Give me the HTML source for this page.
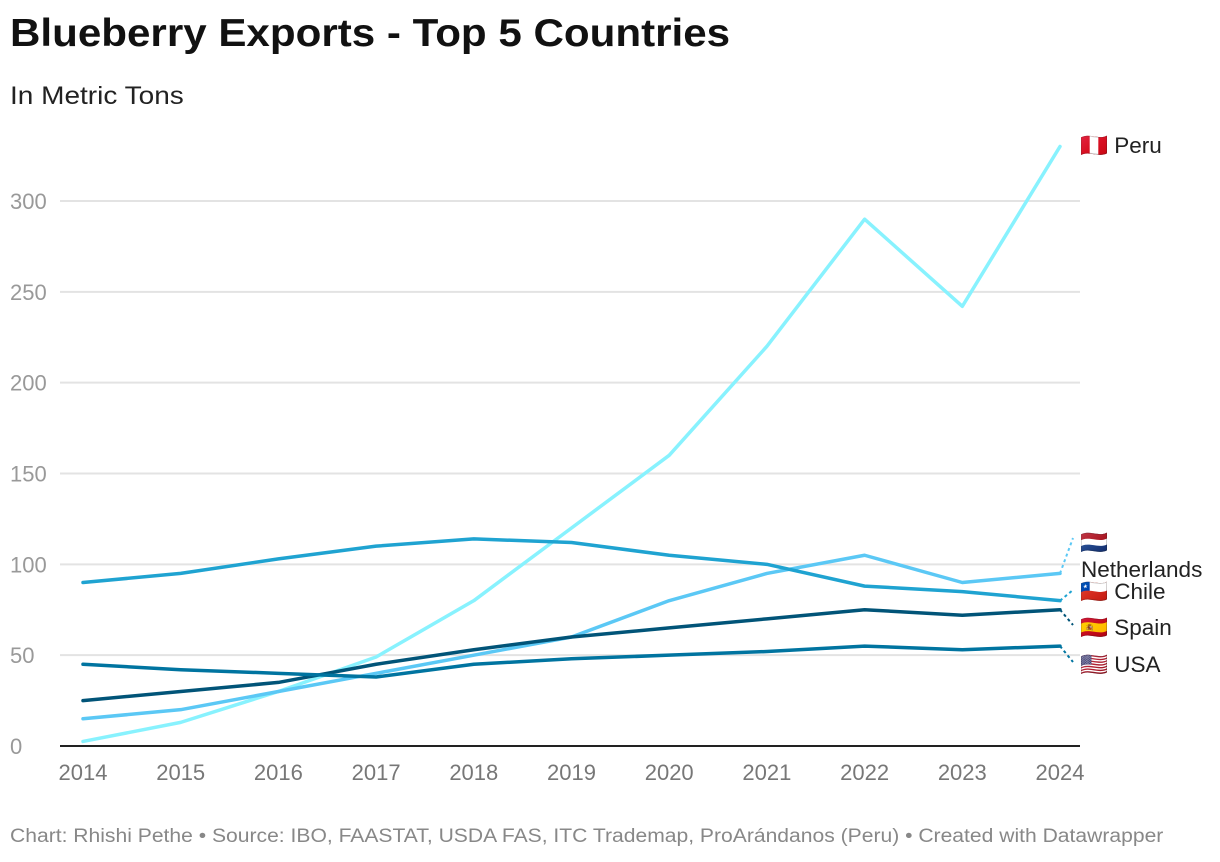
<!DOCTYPE html>
<html><head><meta charset="utf-8"><style>
body{margin:0;background:#fff;width:1220px;height:862px;overflow:hidden;font-family:"Liberation Sans",sans-serif}
#title{position:absolute;left:10px;top:12px;font-size:39px;font-weight:bold;color:#111;transform:scaleX(1.08);transform-origin:left;white-space:nowrap}
#sub{position:absolute;left:10px;top:82px;font-size:25px;color:#222;transform:scaleX(1.12);transform-origin:left;white-space:nowrap}
#foot{position:absolute;left:10px;top:826px;font-size:19px;color:#888;transform:scaleX(1.11);transform-origin:left;white-space:nowrap}
svg{position:absolute;left:0;top:0}
</style></head><body>
<div id="title">Blueberry Exports - Top 5 Countries</div>
<div id="sub">In Metric Tons</div>
<svg id="chart" width="1220" height="862"></svg>
<div id="foot">Chart: Rhishi Pethe • Source: IBO, FAASTAT, USDA FAS, ITC Trademap, ProArándanos (Peru) • Created with Datawrapper</div>
<script>
const years=[2014,2015,2016,2017,2018,2019,2020,2021,2022,2023,2024];
const yTicks=[0,50,100,150,200,250,300];
const peru=[2.5,13,30,49,80,120,160,220,290,242,330];
const netherlands=[15,20,30,40,50,60,80,95,105,90,95];
const chile=[90,95,103,110,114,112,105,100,88,85,80];
const spain=[25,30,35,45,53,60,65,70,75,72,75];
const usa=[45,42,40,38,45,48,50,52,55,53,55];
const NS='http://www.w3.org/2000/svg';
const svg=document.getElementById('chart');
const x=yr=>83+(yr-2014)*97.7;
const y=v=>746-v*545/300;
function mk(t,a,p){const e=document.createElementNS(NS,t);for(const k in a)e.setAttribute(k,a[k]);(p||svg).appendChild(e);return e;}
yTicks.forEach(t=>{
 if(t>0){const g=mk('line',{x1:60,x2:1080,y1:y(t),y2:y(t),stroke:'#e3e3e3','stroke-width':2});
 
 }
 const l=mk('text',{x:10,y:y(t)+8,'font-size':22,fill:'#999','font-family':'Liberation Sans'});l.textContent=t;
 
 
});
years.forEach(yr=>{const l=mk('text',{x:x(yr),y:780,'font-size':22,fill:'#777','text-anchor':'middle','font-family':'Liberation Sans'});l.textContent=yr;
 
 });
const series=[
 {n:'peru',d:peru,c:'#88f2fe',lab:'🇵🇪 Peru',ly:153,cy:null},
 {n:'netherlands',d:netherlands,c:'#5bc8f5',lab:'🇳🇱',ly:550,cy:538,lab2:'Netherlands'},
 {n:'chile',d:chile,c:'#1fa3d1',lab:'🇨🇱 Chile',ly:599,cy:590},
 {n:'spain',d:spain,c:'#015478',lab:'🇪🇸 Spain',ly:635,cy:625},
 {n:'usa',d:usa,c:'#0074a0',lab:'🇺🇸 USA',ly:672,cy:662}];
series.forEach(s=>{
 const p=mk('polyline',{points:s.d.map((v,i)=>x(years[i])+','+y(v)).join(' '),fill:'none',stroke:s.c,'stroke-width':3.5,'stroke-linejoin':'round','stroke-linecap':'round'});
 
 
 const last=s.d[s.d.length-1];
 if(s.cy!==null){const c=mk('line',{x1:x(2024),y1:y(last),x2:1073,y2:s.cy,stroke:s.c,'stroke-width':2,'stroke-dasharray':'3,3'});
 
 }
 const t=mk('text',{x:1080,y:s.ly,'font-size':22.5,fill:'#222','font-family':'Liberation Sans, Noto Color Emoji, sans-serif'});t.textContent=s.lab;
 
 
 if(s.lab2){const t2=mk('text',{x:1081,y:577,'font-size':22.5,fill:'#222','font-family':'Liberation Sans'});t2.textContent=s.lab2;
 
 }
});
const ax=mk('line',{x1:60,x2:1080,y1:746,y2:746,stroke:'#222','stroke-width':2});


</script>
</body></html>
